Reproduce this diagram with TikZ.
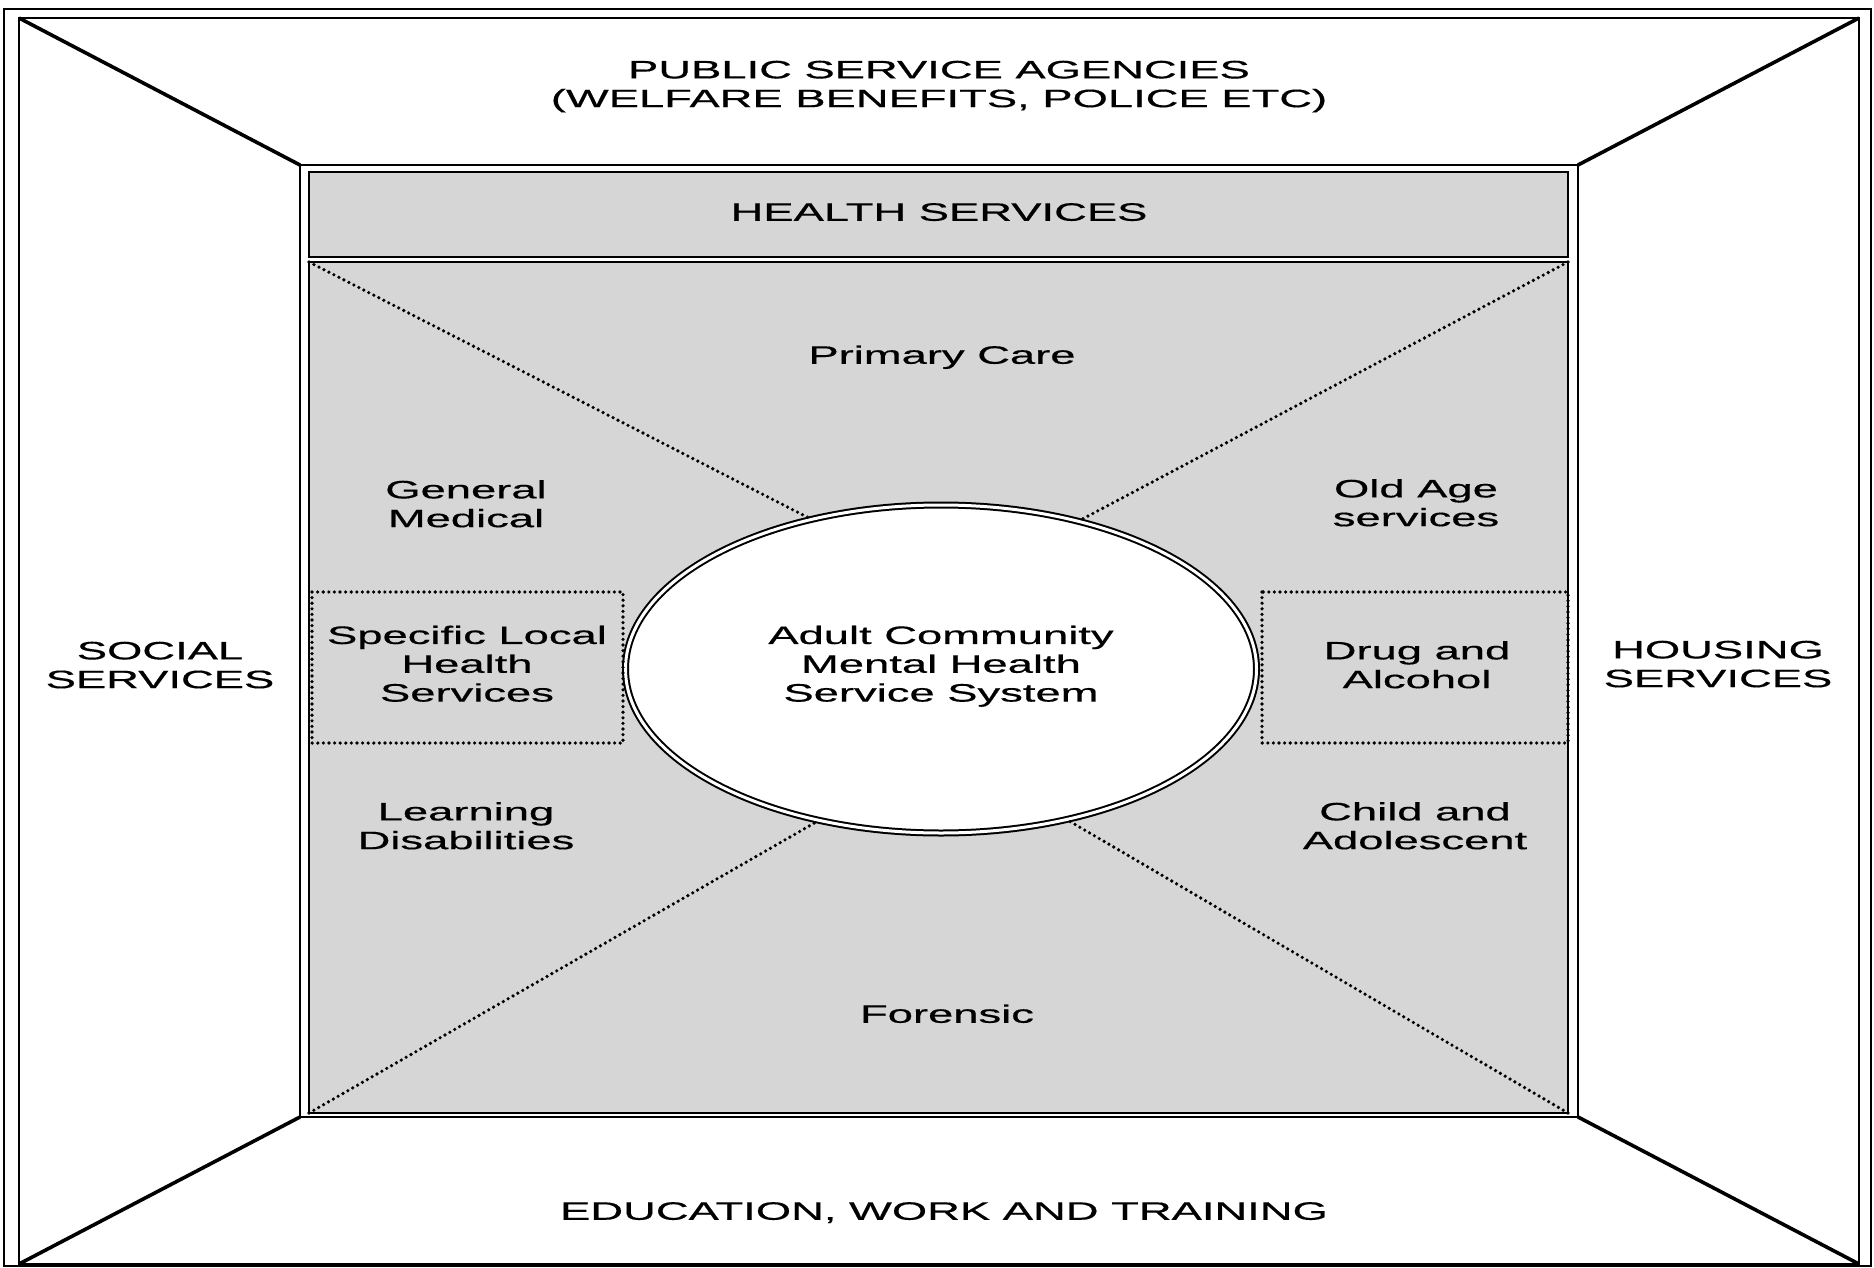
\documentclass[tikz,border=0pt]{standalone}
\usepackage{fontspec}
\setmainfont{Liberation Sans}
\newfontfamily\lblfont{Liberation Sans}[FakeBold=0.4]
\usepackage{graphicx}
\usetikzlibrary{shapes.geometric}
\definecolor{shadegray}{RGB}{214,214,214}
\newcommand\stretchtxt[1]{\scalebox{1.8}[1]{\begin{tabular}{@{}c@{}}#1\end{tabular}}}
\tikzset{
  lbl/.style={font=\lblfont\fontsize{12.6}{14.4}\selectfont, inner sep=0pt, align=center},
  outerline/.style={line width=1pt},
  frameline/.style={line width=1.3pt},
  diagline/.style={line width=1.8pt, line join=miter},
  boxline/.style={line width=1.1pt, fill=shadegray},
  dotline/.style={line width=1.8pt, line cap=round, dash pattern=on 0pt off 2.8pt},
  hub/.style={ellipse, draw, fill=white, line width=1pt, double=white, double distance=1.5pt,
              minimum width=315.5pt, minimum height=164pt, inner sep=0pt}
}
\begin{document}
\begin{tikzpicture}[x=0.5pt,y=-0.5pt]
\useasboundingbox (0,0) rectangle (1874,1268);
\fill[white] (0,0) rectangle (1874,1268);

% frames
\draw[outerline] (4,9) rectangle (1871,1266);
\coordinate (F1) at (19,18);
\coordinate (F2) at (1859,18);
\coordinate (F3) at (1859,1264);
\coordinate (F4) at (19,1264);
\draw[frameline] (F1) -- (F2) -- (F3) -- (F4) -- cycle;

% inner square
\coordinate (S1) at (300,165);
\coordinate (S2) at (1578,165);
\coordinate (S3) at (1578,1117);
\coordinate (S4) at (300,1117);
\draw[frameline] (S1) -- (S2) -- (S3) -- (S4) -- cycle;

% diagonals of the frame
\draw[diagline] (F1) -- (S1);
\draw[diagline] (F2) -- (S2);
\draw[diagline] (F3) -- (S3);
\draw[diagline] (F4) -- (S4);

% health services bar and main shaded box
\draw[boxline] (309,172) rectangle (1568,257);
\coordinate (M1) at (309,262);
\coordinate (M2) at (1568,262);
\coordinate (M3) at (1568,1113);
\coordinate (M4) at (309,1113);
\draw[boxline] (M1) -- (M2) -- (M3) -- (M4) -- cycle;

% central ellipse
\node[hub] (ell) at (941,669) {};

% dotted spokes
\draw[dotline] (M1) -- (ell.131.6);
\draw[dotline] (M2) -- (ell.47.6);
\draw[dotline] (M4) -- (ell.231.2);
\draw[dotline] (M3) -- (ell.310.7);

% dotted boxes
\draw[dotline] (312,592) rectangle (623,743);
\draw[dotline] (1262,592) rectangle (1568,743);

% labels
\node[lbl] (pub) at (939,87) {\stretchtxt{PUBLIC SERVICE AGENCIES\\(WELFARE BENEFITS, POLICE ETC)}};
\node[lbl] (hs) at (939,215) {\stretchtxt{HEALTH SERVICES}};
\node[lbl] (pc) at (942,358) {\stretchtxt{Primary Care}};
\node[lbl] (gm) at (466,507) {\stretchtxt{General\\Medical}};
\node[lbl] (oa) at (1416,506) {\stretchtxt{Old Age\\services}};
\node[lbl] (sl) at (467,667) {\stretchtxt{Specific Local\\Health\\Services}};
\node[lbl] (da) at (1417,668) {\stretchtxt{Drug and\\Alcohol}};
\node[lbl] (ss) at (160,668) {\stretchtxt{SOCIAL\\SERVICES}};
\node[lbl] (hos) at (1718,667) {\stretchtxt{HOUSING\\SERVICES}};
\node[lbl] (ld) at (466,829) {\stretchtxt{Learning\\Disabilities}};
\node[lbl] (ca) at (1415,829) {\stretchtxt{Child and\\Adolescent}};
\node[lbl] (fo) at (947,1017) {\stretchtxt{Forensic}};
\node[lbl] (ed) at (944,1214) {\stretchtxt{EDUCATION, WORK AND TRAINING}};
\node[lbl] (acm) at (941,667) {\stretchtxt{Adult Community\\Mental Health\\Service System}};
\end{tikzpicture}
\end{document}
